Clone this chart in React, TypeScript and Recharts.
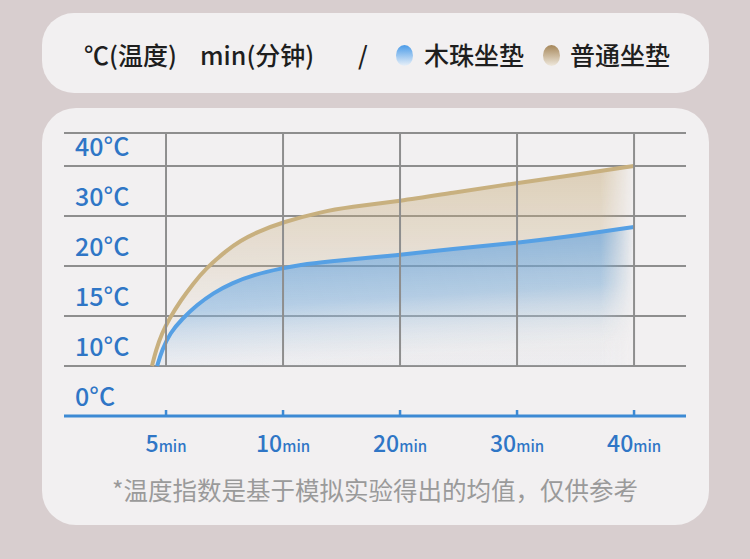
import React from "react";
import { AreaChart, Area, XAxis, YAxis, CartesianGrid, ReferenceLine } from "recharts";

// axis ticks (the chart uses evenly spaced ticks, not a linear scale)
const minuteTicks = [5, 10, 20, 30, 40];
const tempTicks = [0, 10, 15, 20, 30, 40];
const tempLabels = ["0°C", "10°C", "15°C", "20°C", "30°C", "40°C"];

const seriesNames = ["木珠坐垫", "普通坐垫"];

// 普通坐垫 (tan)
const plainMinutes = [4.4, 4.57, 4.83, 5.13, 5.64, 6.15, 6.67, 7.61, 8.16, 8.89, 10, 13.2, 15.7, 20, 24.3, 30, 35.4, 40];
const plainTemps = [10, 11.6, 13.3, 14.7, 16.6, 18.2, 19.7, 23.2, 25.0, 26.8, 28.8, 30.8, 31.8, 33, 34.6, 36.6, 38.4, 40];

// 木珠坐垫 (blue)
const beadMinutes = [4.62, 4.83, 5.17, 5.68, 6.32, 7.01, 7.82, 8.72, 10, 11.45, 13.4, 20, 24.3, 30, 35.4, 40];
const beadTemps = [10, 11.6, 13.3, 14.7, 16.1, 17.3, 18.3, 19.1, 19.8, 20.2, 20.8, 22.2, 23.4, 24.6, 26.2, 27.8];

// map a value onto the tick index scale
function toIndex(v: number, ticks: number[]) {
  let i = 0;
  while (i < ticks.length - 2 && v > ticks[i + 1]) i++;
  return i + (v - ticks[i]) / (ticks[i + 1] - ticks[i]);
}

const toPoints = (mins: number[], temps: number[]) =>
  mins.map((m, i) => ({ x: toIndex(m, minuteTicks), y: toIndex(temps[i], tempTicks) }));

const plainData = toPoints(plainMinutes, plainTemps);
const beadData = toPoints(beadMinutes, beadTemps);

const BLUE_TEXT = "#2f76c6";
const AXIS_BLUE = "#3d8ad4";
const GRID = "#8e8e8e";
const FONT = '"Noto Sans CJK SC", "Noto Sans", sans-serif';

const YTick = (props: any) => {
  const { y, payload } = props;
  return (
    <text x={75} y={y - 21} dominantBaseline="central" fill={BLUE_TEXT} fontSize={25} fontWeight={500} fontFamily={FONT}>
      {tempLabels[payload.value]}
    </text>
  );
};

const XTick = (props: any) => {
  const { x, y, payload } = props;
  return (
    <g>
      <line x1={x} x2={x} y1={y - 6} y2={y} stroke={AXIS_BLUE} strokeWidth={2.5} />
      <text x={x} y={y + 36} textAnchor="middle" fill={BLUE_TEXT} fontFamily={FONT} fontWeight={500}>
        <tspan fontSize={23}>{minuteTicks[payload.value]}</tspan>
        <tspan fontSize={15}>min</tspan>
      </text>
    </g>
  );
};

const dot = (c1: string, c2: string): React.CSSProperties => ({
  position: "absolute",
  width: 17,
  height: 21,
  borderRadius: "50%",
  background: `linear-gradient(${c1}, ${c2})`,
});

export default function App() {
  return (
    <div style={{ position: "absolute", left: 0, top: 0, width: 750, height: 559, background: "#d8cecf", fontFamily: FONT, overflow: "hidden" }}>
      <style>{`.fade-right .recharts-area-area { mask: url(#fadeRight); }`}</style>
      <div style={{ position: "absolute", left: 42, top: 13, width: 667, height: 80, borderRadius: 32, background: "#f2f0f1" }} />
      <div style={{ position: "absolute", left: 42, top: 108, width: 667, height: 417, borderRadius: 34, background: "#f2f0f1" }} />

      <div style={{ position: "absolute", top: 36, left: 0, width: 750, height: 36, fontSize: 25, fontWeight: 500, color: "#1e1e1e", lineHeight: "36px" }}>
        <span style={{ position: "absolute", left: 84 }}>℃(温度)</span>
        <span style={{ position: "absolute", left: 200 }}>min(分钟)</span>
        <span style={{ position: "absolute", left: 358 }}>/</span>
        <div style={{ ...dot("#4a9be8", "#e9f0f8"), left: 396, top: 9 }} />
        <span style={{ position: "absolute", left: 424 }}>{seriesNames[0]}</span>
        <div style={{ ...dot("#a58659", "#efe8dc"), left: 543, top: 9 }} />
        <span style={{ position: "absolute", left: 570 }}>{seriesNames[1]}</span>
      </div>

      <div style={{ position: "absolute", left: 0, top: 0 }}>
        <AreaChart width={750} height={559} margin={{ top: 133, right: 64, bottom: 113, left: 4 }}>
          <defs>
            <linearGradient id="plainFill" x1="0" y1="0" x2="0" y2="1">
              <stop offset="0%" stopColor="#c2a56e" stopOpacity={0.75} />
              <stop offset="45%" stopColor="#cbb38a" stopOpacity={0.45} />
              <stop offset="100%" stopColor="#e0d5c0" stopOpacity={0} />
            </linearGradient>
            <linearGradient id="beadFill" x1="0" y1="0.1" x2="0.2" y2="1">
              <stop offset="0%" stopColor="#3a8ee0" stopOpacity={0.95} />
              <stop offset="55%" stopColor="#6aaae6" stopOpacity={0.72} />
              <stop offset="100%" stopColor="#d2e2f2" stopOpacity={0.18} />
            </linearGradient>
            <linearGradient id="fadeRightGrad" x1="0" y1="0" x2="1" y2="0">
              <stop offset="0%" stopColor="#fff" />
              <stop offset="93%" stopColor="#fff" />
              <stop offset="100%" stopColor="#000" />
            </linearGradient>
            <mask id="fadeRight" maskUnits="objectBoundingBox" maskContentUnits="objectBoundingBox" x="0" y="0" width="1" height="1">
              <rect x="0" y="0" width="1" height="1" fill="url(#fadeRightGrad)" />
            </mask>
          </defs>
          <CartesianGrid vertical={false} stroke={GRID} strokeWidth={2} />
          {minuteTicks.map((_, i) => (
            <ReferenceLine
              key={i}
              segment={[{ x: i, y: 1 }, { x: i, y: 5.66 }]}
              stroke={GRID}
              strokeWidth={2}
            />
          ))}
          <XAxis
            dataKey="x"
            type="number"
            domain={[-0.872, 4.444]}
            ticks={[0, 1, 2, 3, 4]}
            allowDataOverflow
            height={30}
            tickSize={0}
            tickMargin={0}
            tick={<XTick />}
            axisLine={{ stroke: AXIS_BLUE, strokeWidth: 3 }}
          />
          <YAxis
            type="number"
            domain={[0, 5.66]}
            ticks={[0, 1, 2, 3, 4, 5]}
            allowDataOverflow
            width={60}
            axisLine={false}
            tickLine={false}
            tick={<YTick />}
          />
          <Area
            className="fade-right"
            data={plainData}
            dataKey="y"
            name={seriesNames[1]}
            type="basis"
            baseValue={1}
            stroke="#c8b07f"
            strokeWidth={4}
            fill="url(#plainFill)"
            isAnimationActive={false}
          />
          <Area
            className="fade-right"
            data={beadData}
            dataKey="y"
            name={seriesNames[0]}
            type="basis"
            baseValue={1}
            stroke="#56a0e4"
            strokeWidth={4}
            fill="url(#beadFill)"
            isAnimationActive={false}
          />
        </AreaChart>
      </div>

      <div style={{ position: "absolute", left: 0, top: 473, width: 750, textAlign: "center", fontSize: 24.5, color: "#9a9a9a", lineHeight: "34px" }}>
        *温度指数是基于模拟实验得出的均值，仅供参考
      </div>
    </div>
  );
}
